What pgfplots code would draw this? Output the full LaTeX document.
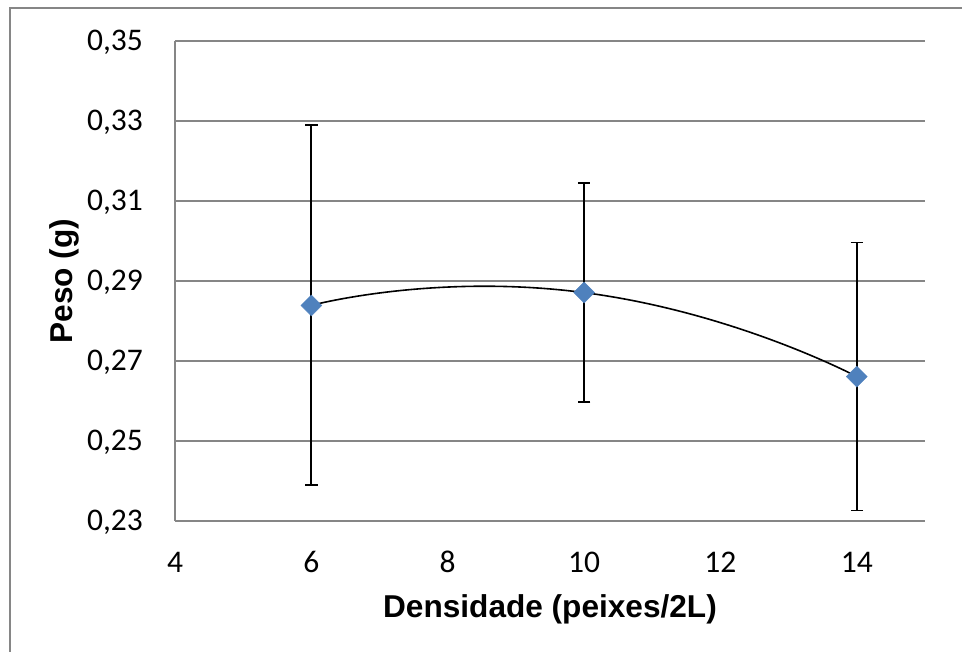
\documentclass[border=0pt]{standalone}
\usepackage{fontspec}
\setmainfont{Carlito}
\newfontfamily\arialfont{Liberation Sans}
\usepackage{pgfplots}
\pgfplotsset{compat=1.18}
\definecolor{gridgray}{RGB}{134,134,134}
\definecolor{markblue}{RGB}{79,129,189}
\begin{document}
\begin{tikzpicture}
\useasboundingbox (0,0) rectangle (962pt,652pt);
\draw[gridgray, line width=1.3pt] (10pt,-5pt) -- (10pt,644pt) -- (975pt,644pt);
\begin{axis}[
  at={(175pt,131pt)}, anchor=south west,
  scale only axis, width=750pt, height=480pt,
  xmin=4, xmax=15, ymin=0.23, ymax=0.35,
  xtick={4,6,8,10,12,14},
  ytick={0.23,0.25,0.27,0.29,0.31,0.33,0.35},
  axis x line*=bottom, axis y line*=left,
  axis line style={gridgray, line width=1.3pt, -},
  ymajorgrids, grid style={gridgray, line width=1.3pt},
  major tick length=0pt,
  /pgf/number format/assume math mode=true,
  tick label style={font=\fontsize{31.5}{36}\selectfont, inner sep=0pt},
  yticklabel style={/pgf/number format/use comma, /pgf/number format/fixed,
    /pgf/number format/fixed zerofill, /pgf/number format/precision=2,
    anchor=base east, xshift=-32pt, yshift=-9.8pt},
  xticklabel style={anchor=base, yshift=-52pt},
  xlabel={Densidade (peixes/2L)},
  ylabel={Peso (g)},
  label style={font=\arialfont\bfseries\fontsize{31.6}{36}\selectfont, inner sep=0pt},
  xlabel style={at={([yshift=-97pt]axis description cs:0.5,0)}, anchor=base},
  ylabel style={at={([xshift=-102pt]axis description cs:0,0.5)}, anchor=base},
  clip=false,
]
\addplot[only marks, mark=square*, mark size=7.4pt,
  mark options={rotate=45, fill=markblue, draw=markblue}]
  coordinates {(6,0.2839) (10,0.2871) (14,0.2661)};
\addplot[draw=none, mark=none, forget plot,
  error bars/.cd, y dir=both, y explicit,
  error bar style={draw=black, line width=1.8pt, solid},
  error mark options={rotate=90, mark size=6.2pt, line width=1.8pt, black}]
  coordinates {(6,0.2839) +- (0,0.0450) (10,0.2871) +- (0,0.0274) (14,0.2661) +- (0,0.0335)};
\addplot[black, line width=1.6pt, smooth, tension=1, mark=none]
  coordinates {(6,0.2839) (10,0.2871) (14,0.2661)};
\end{axis}
\end{tikzpicture}
\end{document}
